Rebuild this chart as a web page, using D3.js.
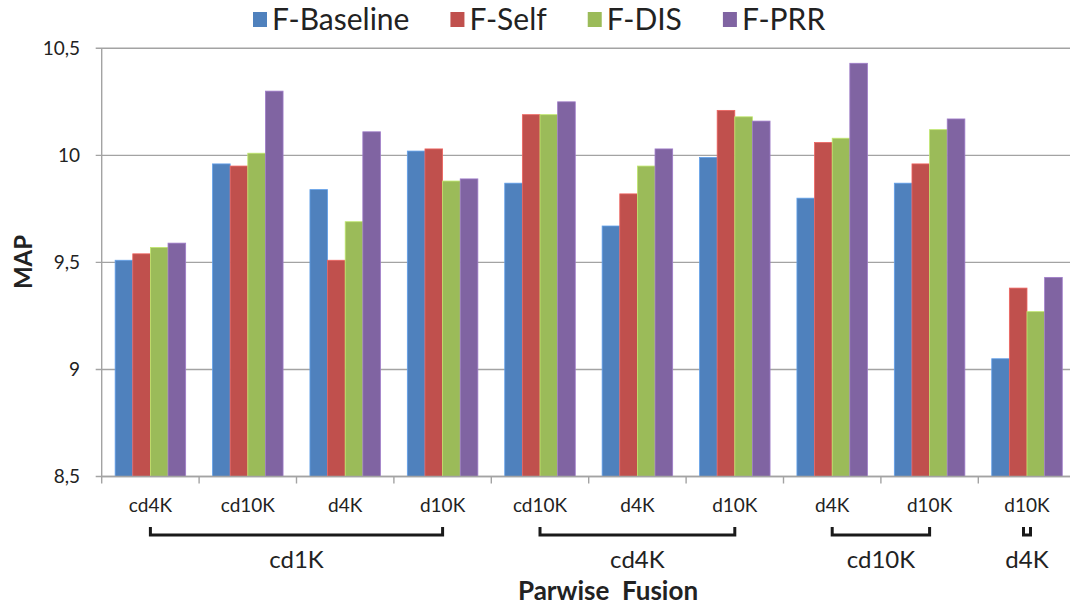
<!DOCTYPE html>
<html>
<head>
<meta charset="utf-8">
<script src="https://cdn.jsdelivr.net/npm/d3@7/dist/d3.min.js"></script>
<style>
  html, body { margin: 0; padding: 0; background: #fff; }
  svg { display: block; font-family: Lato, "Open Sans", sans-serif; }
</style>
</head>
<body>
<svg id="chart" width="1070" height="608"></svg>
<script>
// ---- data ----
const categories = ["cd4K", "cd10K", "d4K", "d10K", "cd10K", "d4K", "d10K", "d4K", "d10K", "d10K"];
const groups = [
  { label: "cd1K", from: 0, to: 3 },
  { label: "cd4K", from: 4, to: 6 },
  { label: "cd10K", from: 7, to: 8 },
  { label: "d4K", from: 9, to: 9 }
];
const seriesNames = ["F-Baseline", "F-Self", "F-DIS", "F-PRR"];
const fBaseline = [9.51, 9.96, 9.84, 10.02, 9.87, 9.67, 9.99, 9.80, 9.87, 9.05];
const fSelf     = [9.54, 9.95, 9.51, 10.03, 10.19, 9.82, 10.21, 10.06, 9.96, 9.38];
const fDIS      = [9.57, 10.01, 9.69, 9.88, 10.19, 9.95, 10.18, 10.08, 10.12, 9.27];
const fPRR      = [9.59, 10.30, 10.11, 9.89, 10.25, 10.03, 10.16, 10.43, 10.17, 9.43];
const yTicks = [8.5, 9, 9.5, 10, 10.5];
const yTickLabels = ["8,5", "9", "9,5", "10", "10,5"];
const yLabel = "MAP";
const xTitle = "Parwise\u00a0\u00a0Fusion";
const colors = ["#4F81BD", "#C0504D", "#9BBB59", "#8064A2"];

const seriesValues = [fBaseline, fSelf, fDIS, fPRR];

// ---- layout ----
const svg = d3.select("#chart");
const plotLeft = 101.7, step = 97.4;
const plotRight = plotLeft + step * categories.length;
const plotTop = 48.3, plotBottom = 476.5;

const xOuter = d3.scaleBand().domain(d3.range(categories.length)).range([plotLeft, plotRight]).padding(0);
const x = d3.scaleBand().domain(d3.range(categories.length)).range([plotLeft, plotRight])
  .paddingInner(0.276).paddingOuter(0.138);
const xs = d3.scaleBand().domain(d3.range(seriesNames.length)).range([0, x.bandwidth()]).padding(0);
const y = d3.scaleLinear().domain([8.5, 10.5]).range([plotBottom, plotTop]);

// gridlines
svg.append("g").selectAll("line").data(yTicks).join("line")
  .attr("x1", plotLeft - 6).attr("x2", 1070)
  .attr("y1", d => y(d)).attr("y2", d => y(d))
  .attr("stroke", "#a3a3a3").attr("stroke-width", 1.4);

// y axis line
svg.append("line").attr("x1", plotLeft).attr("x2", plotLeft).attr("y1", y(10.5)).attr("y2", y(8.5))
  .attr("stroke", "#a3a3a3").attr("stroke-width", 1.4);

// y tick labels
svg.append("g").selectAll("text").data(yTicks).join("text")
  .attr("x", 80).attr("y", d => y(d)).attr("dy", "0.36em")
  .attr("text-anchor", "end").attr("font-size", 19).attr("fill", "#222")
  .text((d, i) => yTickLabels[i]);

// bars
const gBars = svg.append("g");
categories.forEach((c, ci) => {
  seriesValues.forEach((vals, si) => {
    gBars.append("rect")
      .attr("x", x(ci) + xs(si))
      .attr("width", xs.bandwidth())
      .attr("y", y(vals[ci]))
      .attr("height", y(8.5) - y(vals[ci]))
      .attr("fill", colors[si])
      .attr("stroke", d3.color(colors[si]).brighter(0.6))
      .attr("stroke-width", 0.8);
  });
});

// x axis line + ticks
svg.append("line").attr("x1", plotLeft).attr("x2", 1070).attr("y1", plotBottom).attr("y2", plotBottom)
  .attr("stroke", "#a3a3a3").attr("stroke-width", 1.4);
svg.append("g").selectAll("line").data(d3.range(categories.length + 1)).join("line")
  .attr("x1", i => plotLeft + i * xOuter.step()).attr("x2", i => plotLeft + i * xOuter.step())
  .attr("y1", plotBottom).attr("y2", plotBottom + 7)
  .attr("stroke", "#a3a3a3").attr("stroke-width", 1.4);

// category labels
svg.append("g").selectAll("text").data(categories).join("text")
  .attr("x", (d, i) => x(i) + x.bandwidth() / 2).attr("y", 512)
  .attr("text-anchor", "middle").attr("font-size", 19).attr("fill", "#222")
  .text(d => d);

// group brackets and labels
const gGroups = svg.append("g");
groups.forEach(g => {
  const cx1 = x(g.from) + x.bandwidth() / 2;
  const cx2 = x(g.to) + x.bandwidth() / 2;
  let x1 = cx1, x2 = cx2;
  if (g.from === g.to) { x1 = cx1 - 3.5; x2 = cx1 + 3.5; }
  const yb = 535, h = 8;
  gGroups.append("path")
    .attr("d", `M${x1},${yb - h}V${yb}H${x2}V${yb - h}`)
    .attr("fill", "none").attr("stroke", "#1a1a1a").attr("stroke-width", 3);
  gGroups.append("text")
    .attr("x", (cx1 + cx2) / 2).attr("y", 568)
    .attr("text-anchor", "middle").attr("font-size", 24).attr("fill", "#222")
    .text(g.label);
});

// x title
svg.append("text").attr("x", 608).attr("y", 600)
  .attr("text-anchor", "middle").attr("font-size", 26).attr("font-weight", "bold").attr("fill", "#222")
  .text(xTitle);

// y title
svg.append("text").attr("transform", `translate(32,262) rotate(-90)`)
  .attr("text-anchor", "middle").attr("font-size", 24).attr("font-weight", "bold").attr("fill", "#222")
  .text(yLabel);

// legend
const legend = svg.append("g");
let lx = 253;
seriesNames.forEach((name, i) => {
  legend.append("rect").attr("x", lx).attr("y", 12).attr("width", 14).attr("height", 15)
    .attr("fill", colors[i]);
  const t = legend.append("text").attr("x", lx + 19).attr("y", 30)
    .attr("font-size", 30).attr("fill", "#222").text(name);
  lx += 19 + t.node().getComputedTextLength() + 41;
});
</script>
</body>
</html>
